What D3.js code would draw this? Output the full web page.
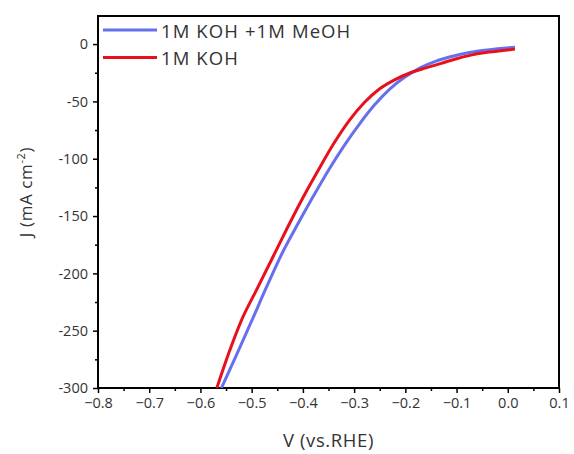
<!DOCTYPE html>
<html>
<head>
<meta charset="utf-8">
<script src="https://cdn.jsdelivr.net/npm/d3@7"></script>
<style>
body { margin: 0; background: #fff; }
text { font-family: "Open Sans", "Noto Sans", sans-serif; fill: #333; }
</style>
</head>
<body>
<div id="chart"></div>
<script>
// data
var vMeoh = [-0.559, -0.53, -0.50, -0.47, -0.44, -0.41, -0.38, -0.35, -0.32, -0.29, -0.26, -0.23, -0.20, -0.17, -0.14, -0.11, -0.08, -0.05, -0.02, 0.014];
var jMeoh = [-300, -271.5, -241.5, -211, -182, -157, -133, -110, -89, -70, -53, -39, -28.5, -20.5, -14.8, -10.8, -7.8, -5.6, -4.0, -2.8];
var vKoh = [-0.568, -0.545, -0.52, -0.49, -0.46, -0.43, -0.40, -0.37, -0.34, -0.31, -0.28, -0.25, -0.22, -0.19, -0.16, -0.13, -0.10, -0.07, -0.04, -0.01, 0.014];
var jKoh = [-300, -270, -241, -214, -187, -160, -134, -110, -87, -67, -51, -39, -31, -25, -20.8, -16.8, -12.8, -9.4, -7.2, -5.6, -4.4];
var seriesNames = ["1M KOH +1M MeOH", "1M KOH"];
var seriesColors = ["#6670ee", "#e8101c"];
var xTicks = [-0.8, -0.7, -0.6, -0.5, -0.4, -0.3, -0.2, -0.1, 0.0, 0.1];
var yTicks = [0, -50, -100, -150, -200, -250, -300];

var margin = {top: 16, right: 15, bottom: 66, left: 98};
var W = 574, H = 454;
var width = W - margin.left - margin.right;
var height = H - margin.top - margin.bottom;

var svg = d3.select("#chart").append("svg")
  .attr("width", W)
  .attr("height", H);

var g = svg.append("g")
  .attr("transform", "translate(" + margin.left + "," + margin.top + ")");

var x = d3.scaleLinear().domain([-0.8, 0.1]).range([0, width]);
var y = d3.scaleLinear().domain([-300, 24.5]).range([height, 0]);

svg.append("defs").append("clipPath").attr("id", "clip")
  .append("rect").attr("width", width).attr("height", height);

// minor ticks
g.append("g")
  .attr("transform", "translate(0," + height + ")")
  .call(d3.axisBottom(x).tickValues(d3.range(-0.75, 0.1, 0.1)).tickSize(3).tickFormat(""))
  .call(function(a){ a.select(".domain").remove(); a.selectAll("line").attr("stroke-width", 1.5); });
g.append("g")
  .call(d3.axisLeft(y).tickValues(d3.range(-275, 24, 50)).tickSize(3).tickFormat(""))
  .call(function(a){ a.select(".domain").remove(); a.selectAll("line").attr("stroke-width", 1.5); });

// major ticks
var xAxis = g.append("g")
  .attr("transform", "translate(0," + height + ")")
  .call(d3.axisBottom(x).tickValues(xTicks).tickSize(5).tickPadding(5).tickFormat(d3.format(".1f")));
var yAxis = g.append("g")
  .call(d3.axisLeft(y).tickValues(yTicks).tickSize(5).tickPadding(5).tickFormat(function(d){ return d; }));

[xAxis, yAxis].forEach(function(a){
  a.select(".domain").remove();
  a.selectAll("line").attr("stroke-width", 1.5).attr("stroke", "#000");
  a.selectAll("text").style("font-size", "14.5px").attr("fill", "#333");
});

// frame
g.append("rect")
  .attr("width", width).attr("height", height)
  .attr("fill", "none").attr("stroke", "#000").attr("stroke-width", 2);

var line = d3.line()
  .x(function(d){ return x(d[0]); })
  .y(function(d){ return y(d[1]); })
  .curve(d3.curveMonotoneX);

var series = [d3.zip(vMeoh, jMeoh), d3.zip(vKoh, jKoh)];

g.append("g").attr("clip-path", "url(#clip)")
  .selectAll("path")
  .data(series)
  .enter()
  .append("path")
  .attr("d", line)
  .attr("fill", "none")
  .attr("stroke", function(d, i){ return seriesColors[i]; })
  .attr("stroke-width", 3);

// legend
var leg = g.selectAll(".leg")
  .data(seriesNames)
  .enter()
  .append("g")
  .attr("transform", function(d, i){ return "translate(5," + (14 + i * 27.5) + ")"; });
leg.append("line")
  .attr("x1", 0).attr("x2", 54)
  .attr("stroke", function(d, i){ return seriesColors[i]; })
  .attr("stroke-width", 3);
leg.append("text")
  .attr("x", 58).attr("y", 7.5)
  .style("font-size", "18.5px")
  .style("letter-spacing", "1.1px")
  .text(function(d){ return d; });

// axis titles
svg.append("text")
  .attr("x", margin.left + width / 2)
  .attr("y", 447)
  .attr("text-anchor", "middle")
  .style("font-size", "18.5px")
  .style("letter-spacing", "0.6px")
  .text("V (vs.RHE)");

var yt = svg.append("text")
  .attr("transform", "translate(32,192) rotate(-90)")
  .attr("text-anchor", "middle")
  .style("font-size", "17px")
  .style("letter-spacing", "0.6px");
yt.append("tspan").text("J (mA cm");
yt.append("tspan").attr("dy", -7).style("font-size", "11px").text("-2");
yt.append("tspan").attr("dy", 7).text(")");
</script>
</body>
</html>
